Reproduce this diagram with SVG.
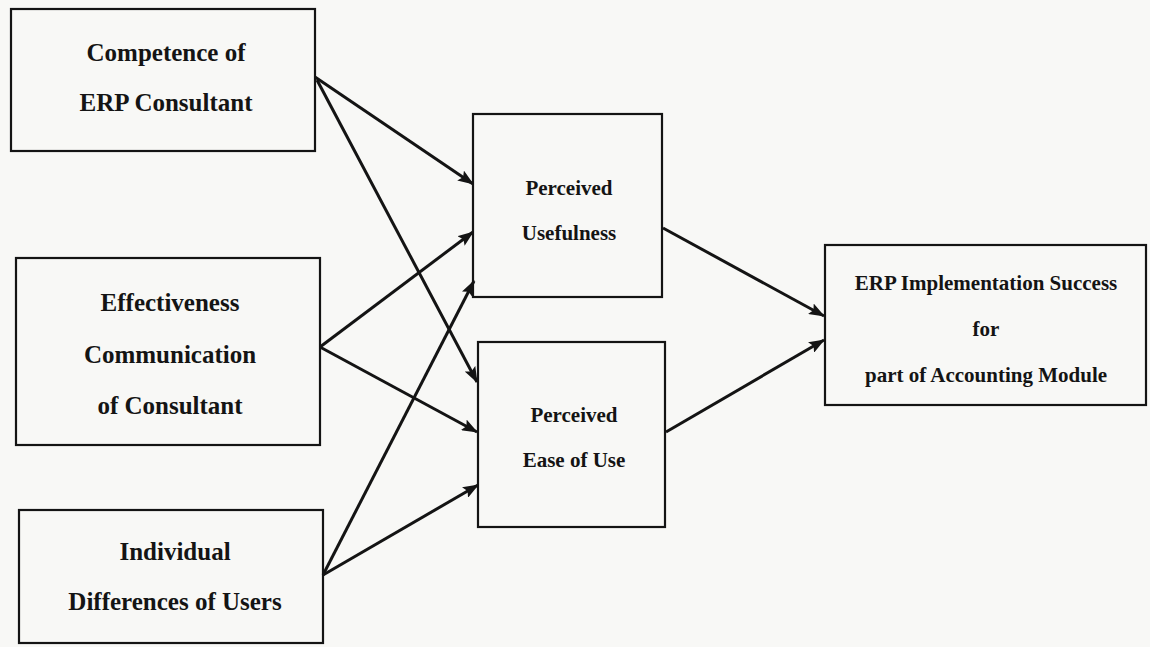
<svg xmlns="http://www.w3.org/2000/svg" width="1150" height="647" viewBox="0 0 1150 647">
<style>
.box{fill:none;stroke:#141414;stroke-width:2.2}
.t{font-family:"Liberation Serif","Times New Roman",serif;font-weight:bold;fill:#141414;text-anchor:middle}
.l{font-size:25px}
.m{font-size:21px}
.c{stroke:#141414;stroke-width:3;fill:none;marker-end:url(#ah)}
</style>
<defs>
<marker id="ah" viewBox="0 0 16 12" refX="15" refY="6" markerWidth="16" markerHeight="12" markerUnits="userSpaceOnUse" orient="auto">
<path d="M0,0 L16,6 L0,12 L3,6 z" fill="#141414"/>
</marker>
</defs>
<rect width="1150" height="647" fill="#f8f8f6"/>
<g id="competence">
<rect class="box" x="11" y="9" width="304" height="142"/>
<text class="t l" x="166" y="61">Competence of</text>
<text class="t l" x="166" y="111">ERP Consultant</text>
</g>
<g id="effectiveness">
<rect class="box" x="16" y="258" width="304" height="187"/>
<text class="t l" x="170" y="311">Effectiveness</text>
<text class="t l" x="170" y="363">Communication</text>
<text class="t l" x="170" y="414">of Consultant</text>
</g>
<g id="individual">
<rect class="box" x="19" y="510" width="304" height="133"/>
<text class="t l" x="175" y="560">Individual</text>
<text class="t l" x="175" y="610">Differences of Users</text>
</g>
<g id="usefulness">
<rect class="box" x="473" y="114" width="189" height="183"/>
<text class="t m" x="569" y="195">Perceived</text>
<text class="t m" x="569" y="240">Usefulness</text>
</g>
<g id="ease">
<rect class="box" x="478" y="342" width="187" height="185"/>
<text class="t m" x="574" y="422">Perceived</text>
<text class="t m" x="574" y="467">Ease of Use</text>
</g>
<g id="success">
<rect class="box" x="825" y="245" width="321" height="160"/>
<text class="t m" x="986" y="290">ERP Implementation Success</text>
<text class="t m" x="986" y="336">for</text>
<text class="t m" x="986" y="382">part of Accounting Module</text>
</g>
<g id="connectors">
<line class="c" x1="315" y1="77" x2="473" y2="184"/>
<line class="c" x1="317" y1="80" x2="477" y2="382"/>
<line class="c" x1="320" y1="347" x2="473" y2="232"/>
<line class="c" x1="320" y1="347" x2="477" y2="432"/>
<line class="c" x1="323" y1="575" x2="474" y2="281"/>
<line class="c" x1="323" y1="575" x2="478" y2="485"/>
<line class="c" x1="663" y1="228" x2="824" y2="316"/>
<line class="c" x1="666" y1="432" x2="824" y2="340"/>
</g>
</svg>
